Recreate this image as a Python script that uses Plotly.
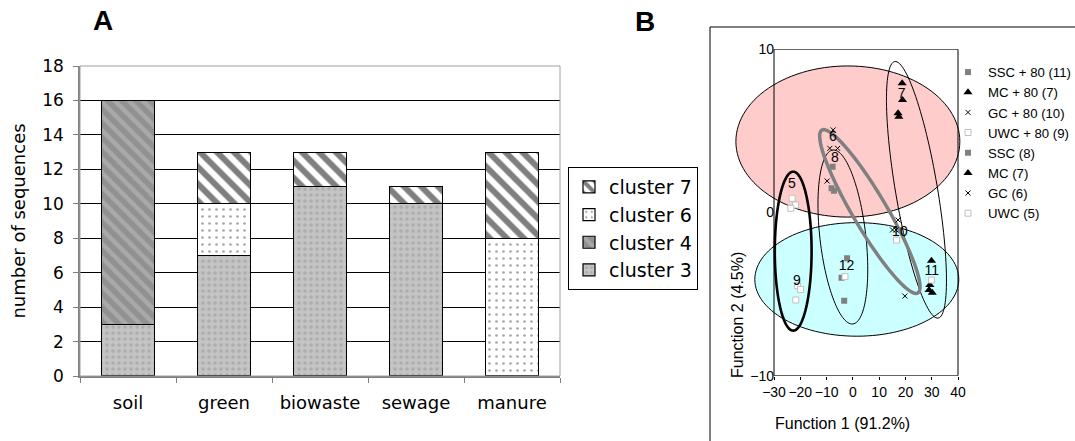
import numpy as np
import plotly.graph_objects as go

W, H = 1075, 441

# ---------------- Panel A: sequences per source, stacked by cluster ----------------
sources = ["soil", "green", "biowaste", "sewage", "manure"]
cluster3 = [3, 7, 11, 10, 0]
cluster4 = [13, 0, 0, 0, 0]
cluster6 = [0, 3, 0, 0, 8]
cluster7 = [0, 3, 2, 1, 5]
a_yticks = [0, 2, 4, 6, 8, 10, 12, 14, 16, 18]

# ---------------- Panel B: discriminant scores (Function 1, Function 2) ----------------
ssc80_f1 = [-2.2, -4.3, -3.3]
ssc80_f2 = [-2.8, -4.0, -5.4]
mc80_f1 = [29.9, 29.3, 30.2, 29.0]
mc80_f2 = [-2.95, -4.44, -4.91, -4.75]
gc80_f1 = [17.2, 15.1, 16.4, 19.8]
gc80_f2 = [-0.46, -1.07, -1.07, -5.12]
uwc80_f1 = [-21.0, -19.9, -21.7, -3.0, 16.6, 29.9]
uwc80_f2 = [-4.49, -4.71, -5.36, -3.93, -1.69, -4.14]
ssc_f1 = [-7.7, -7.2, -8.1]
ssc_f2 = [2.81, 1.34, 1.48]
mc_f1 = [18.75, 18.9, 17.2, 17.5]
mc_f2 = [7.92, 6.89, 6.08, 5.87]
gc_f1 = [-7.5, -8.75, -5.8, -9.8]
gc_f2 = [5.06, 3.93, 3.93, 1.93]
uwc_f1 = [-23.1, -21.8, -23.6]
uwc_f2 = [0.87, 0.46, 0.26]

group_labels = ["5", "6", "7", "8", "9", "10", "11", "12"]
group_label_f1 = [-23.2, -7.6, 18.6, -6.8, -21.3, 17.9, 30.0, -2.4]
group_label_f2 = [1.7, 4.6, 7.2, 3.3, -4.2, -1.2, -3.6, -3.3]

b_xticks = [-30, -20, -10, 0, 10, 20, 30, 40]
b_yticks = [-10, 0, 10]

# Group ellipses: centre, first and second semi-axis vectors (data units)
ellipses = [
    dict(c=(-1.9, 4.35), u=(42.6, 0.0), v=(0.0, 4.63), fill="#ffcccc", line="#000000", w=1),
    dict(c=(1.5, -4.1), u=(38.8, 0.0), v=(0.0, 3.48), fill="#ccffff", line="#000000", w=1),
    dict(c=(-3.8, -1.5), u=(-3.8, 5.33), v=(8.67, 0.16), fill=None, line="#000000", w=1),
    dict(c=(24.2, 1.39), u=(-8.26, 7.86), v=(7.88, 0.21), fill=None, line="#000000", w=1),
    dict(c=(-22.7, -2.37), u=(7.0, 0.0), v=(0.0, 4.87), fill=None, line="#000000", w=2.6),
    dict(c=(6.47, 0.06), u=(-18.26, 4.99), v=(5.57, 0.53), fill=None, line="#808080", w=3.5),
]


def ellipse_path(c, u, v, n=120):
    t = np.linspace(0, 2 * np.pi, n, endpoint=False)
    xs = c[0] + u[0] * np.cos(t) + v[0] * np.sin(t)
    ys = c[1] + u[1] * np.cos(t) + v[1] * np.sin(t)
    return "M " + " L ".join(f"{x:.4f},{y:.4f}" for x, y in zip(xs, ys)) + " Z"


fig = go.Figure()

bar_styles = [
    ("cluster 3", cluster3, dict(shape=".", bgcolor="#c4c4c4", fgcolor="#989898", size=6, solidity=0.3)),
    ("cluster 4", cluster4, dict(shape="\\", bgcolor="#919191", fgcolor="#c2c2c2", size=10, solidity=0.45)),
    ("cluster 6", cluster6, dict(shape=".", bgcolor="#ffffff", fgcolor="#505050", size=7, solidity=0.12)),
    ("cluster 7", cluster7, dict(shape="\\", bgcolor="#ffffff", fgcolor="#000000", size=12, solidity=0.5)),
]
for name, vals, pat in bar_styles:
    fig.add_trace(go.Bar(
        x=sources, y=vals, name=name, xaxis="x", yaxis="y", legend="legend",
        marker=dict(color=pat["bgcolor"], pattern=pat, line=dict(color="#000000", width=1.2)),
    ))

b_font = "Liberation Sans, Arial, sans-serif"
groups = [
    ("SSC + 80 (11)", ssc80_f1, ssc80_f2, dict(symbol="square", size=6, color="#808080")),
    ("MC + 80 (7)", mc80_f1, mc80_f2, dict(symbol="triangle-up", size=8, color="#000000")),
    ("GC + 80 (10)", gc80_f1, gc80_f2, dict(symbol="x-thin", size=5, color="#000000",
                                            line=dict(color="#000000", width=1))),
    ("UWC + 80 (9)", uwc80_f1, uwc80_f2, dict(symbol="square", size=6, color="#ffffff",
                                              line=dict(color="#c0c0c0", width=1))),
    ("SSC (8)", ssc_f1, ssc_f2, dict(symbol="square", size=6, color="#808080")),
    ("MC (7)", mc_f1, mc_f2, dict(symbol="triangle-up", size=8, color="#000000")),
    ("GC (6)", gc_f1, gc_f2, dict(symbol="x-thin", size=5, color="#000000",
                                  line=dict(color="#000000", width=1))),
    ("UWC (5)", uwc_f1, uwc_f2, dict(symbol="square", size=6, color="#ffffff",
                                     line=dict(color="#c0c0c0", width=1))),
]
for name, fx, fy, mk in groups:
    fig.add_trace(go.Scatter(
        x=fx, y=fy, mode="markers", name=name, marker=mk,
        xaxis="x2", yaxis="y2", legend="legend2",
    ))

fig.add_trace(go.Scatter(
    x=group_label_f1, y=group_label_f2, mode="text", text=group_labels,
    textfont=dict(family=b_font, size=14, color="#000000"),
    xaxis="x2", yaxis="y2", showlegend=False,
))

# geometry of panel B's plot box (pixels)
bx_left, bx_right = 774.0, 958.0
ppu = (bx_right - bx_left) / (b_xticks[-1] - b_xticks[0])
b_range = (-47.0, 43.0)
b_dom = ((bx_left - (b_xticks[0] - b_range[0]) * ppu) / W,
         (bx_right + (b_range[1] - b_xticks[-1]) * ppu) / W)

shapes = []
for e in ellipses:
    shapes.append(dict(
        type="path", path=ellipse_path(e["c"], e["u"], e["v"]), xref="x2", yref="y2",
        fillcolor=e["fill"] if e["fill"] else "rgba(0,0,0,0)",
        line=dict(color=e["line"], width=e["w"]), layer="below",
    ))
# plot box of panel B
shapes.append(dict(type="rect", xref="x2", yref="y2", x0=b_xticks[0], x1=b_xticks[-1],
                   y0=b_yticks[0], y1=b_yticks[-1], line=dict(color="#000000", width=1), layer="above"))
# outer frame around panel B
shapes.append(dict(type="rect", xref="paper", yref="paper", x0=710 / W, x1=1.02, y0=-0.02,
                   y1=(H - 27) / H, line=dict(color="#000000", width=1)))
# plot box of panel A
shapes.append(dict(type="rect", xref="x domain", yref="y domain", x0=0, x1=1, y0=0, y1=1,
                   line=dict(color="#a0a0a0", width=1), layer="above"))

annotations = [
    dict(text="<b>A</b>", x=103 / W, y=(H - 20) / H, xref="paper", yref="paper", showarrow=False,
         font=dict(family=b_font, size=28, color="#000000"), xanchor="center", yanchor="middle"),
    dict(text="<b>B</b>", x=645 / W, y=(H - 21) / H, xref="paper", yref="paper", showarrow=False,
         font=dict(family=b_font, size=28, color="#000000"), xanchor="center", yanchor="middle"),
    dict(text="Function 1 (91.2%)", x=842 / W, y=(H - 423) / H, xref="paper", yref="paper",
         showarrow=False, font=dict(family=b_font, size=16, color="#000000"),
         xanchor="center", yanchor="middle"),
    dict(text="Function 2 (4.5%)", x=737 / W, y=(H - 315) / H, xref="paper", yref="paper",
         showarrow=False, textangle=-90, font=dict(family=b_font, size=16, color="#000000"),
         xanchor="center", yanchor="middle"),
]

fig.update_layout(
    width=W, height=H, autosize=False,
    margin=dict(l=0, r=0, t=0, b=0, autoexpand=False),
    paper_bgcolor="#ffffff", plot_bgcolor="#ffffff",
    font=dict(family="DejaVu Sans, Verdana, sans-serif", color="#000000"),
    barmode="stack", bargap=0.44,
    xaxis=dict(domain=[80 / W, 560 / W], anchor="y", automargin=False, showline=True,
               linecolor="#808080", linewidth=1.5, ticks="outside", tickson="boundaries",
               ticklen=5, tickcolor="#808080", tickfont=dict(size=18), ticklabelstandoff=10,
               showgrid=False),
    yaxis=dict(domain=[(H - 376) / H, (H - 66) / H], anchor="x", automargin=False,
               range=[0, 18], tickvals=a_yticks, showline=True, linecolor="#808080",
               linewidth=1.5, ticks="outside", ticklen=5, tickcolor="#808080",
               tickfont=dict(size=17), ticklabelstandoff=6, showgrid=True,
               gridcolor="#000000", gridwidth=1, zeroline=False,
               title=dict(text="number of sequences", font=dict(size=18), standoff=12)),
    xaxis2=dict(domain=list(b_dom), anchor="y2", automargin=False, range=list(b_range),
                tickvals=b_xticks, tickangle=0, showgrid=False, zeroline=False,
                showline=False, ticks="outside", ticklen=3, tickcolor="#000000",
                tickfont=dict(family=b_font, size=14)),
    yaxis2=dict(domain=[(H - 375.7) / H, (H - 49.3) / H], anchor="free", position=bx_left / W,
                automargin=False, range=[-10, 10], tickvals=b_yticks, showgrid=False,
                zeroline=False, showline=False, ticks="",
                tickfont=dict(family=b_font, size=14)),
    legend=dict(x=568 / W, y=(H - 167) / H, xanchor="left", yanchor="top",
                bordercolor="#000000", borderwidth=1, bgcolor="#ffffff",
                font=dict(size=19), traceorder="reversed"),
    legend2=dict(x=948 / W, y=(H - 57) / H, xanchor="left", yanchor="top",
                 bgcolor="rgba(0,0,0,0)", borderwidth=0,
                 font=dict(family=b_font, size=13.2), traceorder="normal"),
    shapes=shapes, annotations=annotations,
)

fig.write_html("out.html", config={"responsive": False})
